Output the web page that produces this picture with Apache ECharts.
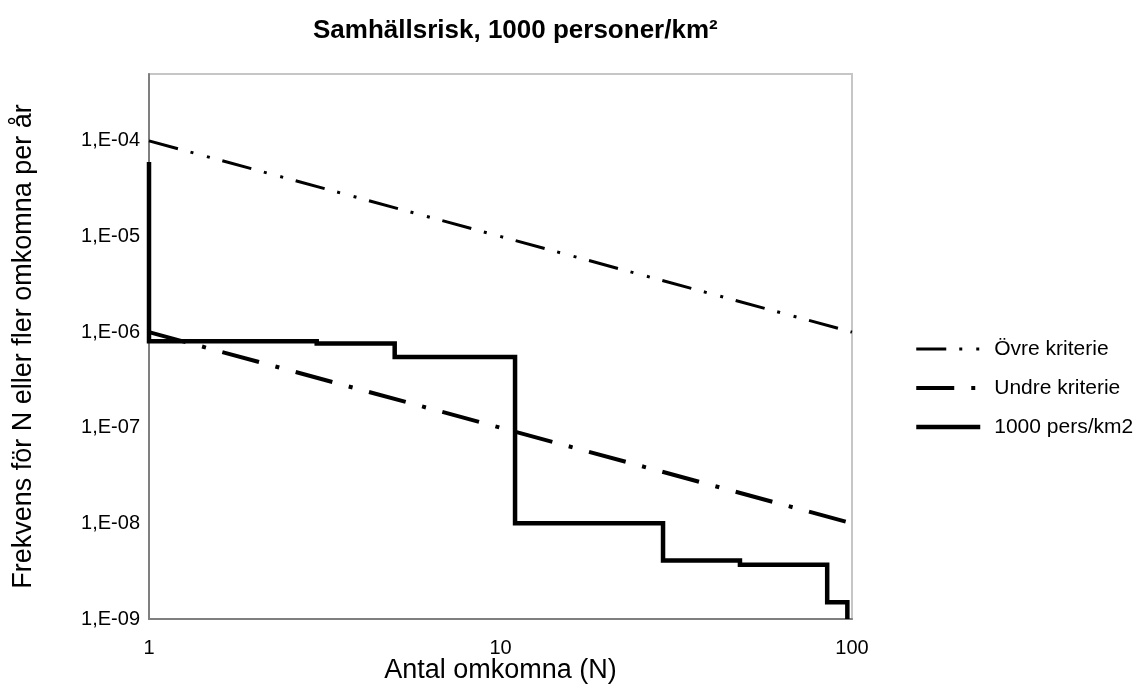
<!DOCTYPE html>
<html>
<head>
<meta charset="utf-8">
<script src="https://cdn.jsdelivr.net/npm/echarts@6/dist/echarts.min.js"></script>
<style>html,body{margin:0;padding:0;background:#fff}#c{width:1139px;height:698px}</style>
</head>
<body>
<div id="c"></div>
<script>
const titleText = 'Samhällsrisk, 1000 personer/km²';
const xAxisName = 'Antal omkomna (N)';
const yAxisName = 'Frekvens för N eller fler omkomna per år';
const seriesNames = ['Övre kriterie', 'Undre kriterie', '1000 pers/km2'];

const criteriaN = [1, 100];
const ovreValues = [1e-4, 1e-6];
const undreValues = [1e-6, 1e-8];

const stepN = [1, 1, 3, 3, 5, 5, 11, 11, 29, 29, 48, 48, 85, 85, 97, 97];
const stepF = [6e-5, 8e-7, 8e-7, 7.6e-7, 7.6e-7, 5.5e-7, 5.5e-7, 1e-8, 1e-8, 4.1e-9, 4.1e-9, 3.7e-9, 3.7e-9, 1.5e-9, 1.5e-9, 1e-9];

const xMin = 1, xMax = 100;
const yMin = 1e-9, yMax = 5e-4;

const pair = (xs, ys) => xs.map((x, i) => [x, ys[i]]);
const font = 'Liberation Sans, Arial, sans-serif';
const widths = [3, 4, 4.5];
const dashes = [[30, 13, 3, 14, 3, 13], [38, 17, 4, 17], 'solid'];

const chart = echarts.init(document.getElementById('c'), null, {renderer: 'canvas'});
chart.setOption({
  animation: false,
  backgroundColor: '#ffffff',
  title: {
    text: titleText,
    left: 313, top: 18, padding: 0,
    textStyle: {fontFamily: font, fontSize: 26, fontWeight: 'bold', color: '#000'}
  },
  grid: {
    left: 149, right: 287, top: 74, bottom: 79,
    show: true, borderColor: '#c6c6c6', borderWidth: 2, backgroundColor: 'transparent'
  },
  legend: {
    orient: 'vertical',
    left: 914, top: 338, padding: 0,
    itemWidth: 64, itemHeight: 16, itemGap: 17,
    data: seriesNames.map((n, i) => ({
      name: n,
      lineStyle: {width: widths[i], type: dashes[i], cap: 'butt', color: '#000'}
    })),
    itemStyle: {opacity: 0},
    textStyle: {fontFamily: font, fontSize: 21, color: '#000', padding: [0, 0, 0, 9], lineHeight: 22}
  },
  xAxis: {
    type: 'log', logBase: 10, min: xMin, max: xMax,
    name: xAxisName, nameLocation: 'middle', nameGap: 38, nameMoveOverlap: false,
    nameTextStyle: {fontFamily: font, fontSize: 27, color: '#000'},
    axisLine: {show: true, onZero: false, lineStyle: {color: '#7f7f7f', width: 2}},
    axisTick: {show: false},
    splitLine: {show: false},
    axisLabel: {fontFamily: font, fontSize: 20, color: '#000', margin: 19}
  },
  yAxis: {
    type: 'log', logBase: 10, min: yMin, max: yMax,
    name: yAxisName, nameLocation: 'middle', nameGap: 112, nameMoveOverlap: false,
    nameTextStyle: {fontFamily: font, fontSize: 27, color: '#000'},
    axisLine: {show: true, onZero: false, lineStyle: {color: '#7f7f7f', width: 2}},
    axisTick: {show: false},
    splitLine: {show: false},
    axisLabel: {
      fontFamily: font, fontSize: 20, color: '#000', margin: 9,
      showMaxLabel: false,
      formatter: function (v) {
        const e = Math.round(Math.log10(v));
        if (Math.abs(Math.log10(v) - e) > 1e-6) return '';
        const s = String(Math.abs(e)).padStart(2, '0');
        return '1,E' + (e < 0 ? '-' : '+') + s;
      }
    }
  },
  series: [
    {
      name: seriesNames[0], type: 'line', data: pair(criteriaN, ovreValues),
      symbol: 'none', color: '#000',
      lineStyle: {color: '#000', width: widths[0], type: dashes[0], cap: 'butt'}
    },
    {
      name: seriesNames[1], type: 'line', data: pair(criteriaN, undreValues),
      symbol: 'none', color: '#000',
      lineStyle: {color: '#000', width: widths[1], type: dashes[1], cap: 'butt'}
    },
    {
      name: seriesNames[2], type: 'line', data: pair(stepN, stepF),
      symbol: 'none', color: '#000',
      lineStyle: {color: '#000', width: widths[2], type: dashes[2], join: 'miter'}
    }
  ]
});
</script>
</body>
</html>
